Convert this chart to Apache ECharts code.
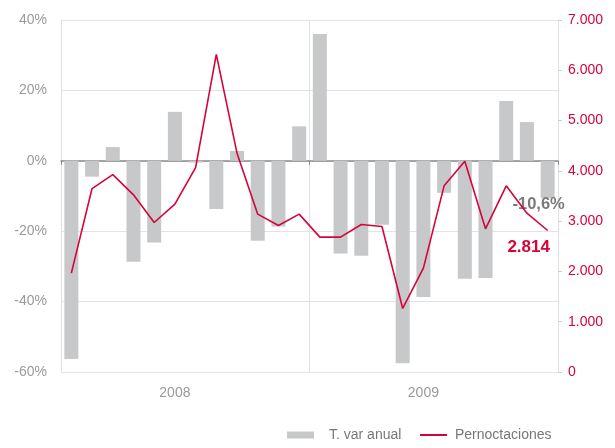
<!DOCTYPE html>
<html>
<head>
<meta charset="utf-8">
<script src="https://cdn.jsdelivr.net/npm/echarts@6/dist/echarts.min.js"></script>
<style>
html,body{margin:0;padding:0;background:#fff;}
#c{width:615px;height:448px;}
</style>
</head>
<body>
<div id="c"></div>
<script>
var months = ['2008-01','2008-02','2008-03','2008-04','2008-05','2008-06','2008-07','2008-08','2008-09','2008-10','2008-11','2008-12',
              '2009-01','2009-02','2009-03','2009-04','2009-05','2009-06','2009-07','2009-08','2009-09','2009-10','2009-11','2009-12'];
var varAnual = [-56.3,-4.5,3.9,-28.7,-23.2,13.9,-0.5,-13.7,2.8,-22.7,-18.7,9.8,
                36.0,-26.3,-27.0,-18.2,-57.5,-38.7,-9.1,-33.5,-33.3,17.0,11.0,-10.6];
var pernoctaciones = [1967,3648,3926,3523,2973,3338,4065,6318,4351,3139,2913,3139,
                      2682,2682,2933,2893,1264,2066,3702,4192,2847,3702,3159,2814];
var leftTicks = {min:-60, max:40, interval:20};
var rightTicks = {min:0, max:7000, interval:1000};

var RED = '#d5043b';
var GRAY = '#c7c8ca';
var lastIdx = months.length - 1;

function fmtThousands(v){
  return String(v).replace(/\B(?=(\d{3})+(?!\d))/g, '.');
}

var barData = varAnual.map(function(v,i){
  if(i===lastIdx){
    return {value:v, label:{show:true, position:'bottom', distance:0, offset:[-9,-2],
      formatter:function(p){return String(p.value).replace('.',',')+'%';},
      color:'#7a7a7a', fontWeight:'bold', fontSize:16.5, fontFamily:'Liberation Sans, Arial, sans-serif'}};
  }
  return v;
});
var lineData = pernoctaciones.map(function(v,i){
  if(i===lastIdx){
    return {value:v, symbol:'circle', symbolSize:0.01,
      label:{show:true, position:'bottom', distance:5, offset:[-19,3],
      formatter:function(p){return fmtThousands(p.value);},
      color:RED, fontWeight:'bold', fontSize:17, fontFamily:'Liberation Sans, Arial, sans-serif'}};
  }
  return v;
});

var chart = echarts.init(document.getElementById('c'), null, {renderer:'canvas'});
chart.setOption({
  animation:false,
  textStyle:{fontFamily:'Liberation Sans, Arial, sans-serif'},
  grid:{left:61, top:20, right:57, bottom:76, containLabel:false},
  legend:[
    {data:['T. var anual'], left:287, top:428, padding:0, itemWidth:27, itemHeight:7, icon:'rect',
     textStyle:{color:'#777', fontSize:14, padding:[0,0,0,10]}},
    {data:['Pernoctaciones'], left:420, top:428, padding:0, itemWidth:27, itemHeight:2, icon:'rect',
     textStyle:{color:'#777', fontSize:14, padding:[0,0,0,3]}}
  ],
  xAxis:[
    {type:'category', data:months, position:'bottom',
     axisLine:{show:true, onZero:true, onZeroAxisIndex:0, lineStyle:{color:'#8a8a8a', width:1.5}},
     axisTick:{show:true, length:4, interval:11, lineStyle:{color:'#8a8a8a'}},
     axisLabel:{show:false}, splitLine:{show:false}},
    {type:'category', data:months, position:'bottom',
     axisLine:{show:false, onZero:false}, axisTick:{show:false},
     axisLabel:{show:true, interval:function(i){return i%12===5;}, color:'#999', fontSize:14, margin:14,
       formatter:function(v){return v.slice(0,4);}},
     splitLine:{show:true, interval:11, lineStyle:{color:'#e2e2e2'}}}
  ],
  yAxis:[
    {type:'value', min:leftTicks.min, max:leftTicks.max, interval:leftTicks.interval, position:'left',
     axisLine:{show:true, lineStyle:{color:'#e0e0e0'}}, axisTick:{show:false},
     axisLabel:{formatter:'{value}%', color:'#9a9a9a', fontSize:14, margin:14},
     splitLine:{show:true, lineStyle:{color:'#e3e3e3'}}},
    {type:'value', min:rightTicks.min, max:rightTicks.max, interval:rightTicks.interval, position:'right',
     axisLine:{show:true, lineStyle:{color:'#e0e0e0'}}, axisTick:{show:true, length:4, lineStyle:{color:'#d0d0d0'}},
     axisLabel:{formatter:fmtThousands, color:RED, fontSize:14, margin:10},
     splitLine:{show:false}}
  ],
  series:[
    {name:'T. var anual', type:'bar', xAxisIndex:0, yAxisIndex:0, data:barData, barWidth:14,
     itemStyle:{color:GRAY}, z:2},
    {name:'Pernoctaciones', type:'line', xAxisIndex:0, yAxisIndex:1, data:lineData, symbol:'none',
     lineStyle:{color:RED, width:1.6}, itemStyle:{color:RED}, z:3}
  ]
});
</script>
</body>
</html>
